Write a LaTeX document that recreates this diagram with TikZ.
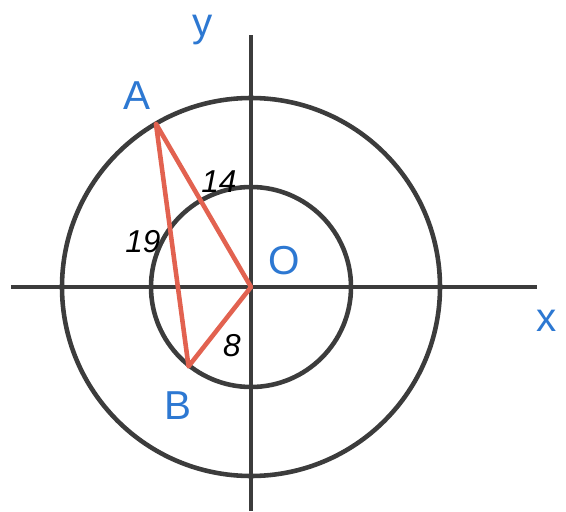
\documentclass[tikz,border=0pt]{standalone}
\usepackage{fontspec}
\setsansfont{Liberation Sans}
\definecolor{penblack}{RGB}{60,60,60}
\definecolor{penred}{RGB}{226,98,80}
\definecolor{penblue}{RGB}{45,120,210}
\tikzset{
    axisline/.style={draw=penblack, line width=2.6pt},
    ringline/.style={draw=penblack, line width=2.6pt},
    sideline/.style={draw=penred, line width=2.6pt, line join=round},
    pointlabel/.style={text=penblue, font=\sffamily\fontsize{23}{26}\selectfont},
    lengthlabel/.style={text=black, font=\sffamily\itshape\fontsize{18}{20}\selectfont}
}
\begin{document}
\begin{tikzpicture}

\useasboundingbox (-5.02,-4.48) rectangle (6.30,5.74);

% Points
\coordinate (O) at (0,0);
\coordinate (A) at (120.2:3.78);
\coordinate (B) at (231.8:2.02);
\coordinate (xl) at (-4.80,0);
\coordinate (xr) at (5.72,0);
\coordinate (yb) at (0,-4.48);
\coordinate (yt) at (0,5.04);

% Axes
\draw[axisline] (xl) -- (xr);
\draw[axisline] (yb) -- (yt);

% Circles
\draw[ringline] (O) circle (3.78);
\draw[ringline] (O) circle (2.0);

% Triangle
\draw[sideline] (A) -- (O) -- (B) -- cycle;

% Labels
\node[pointlabel] (labA) at (-2.28,3.82) {A};
\node[pointlabel] (labB) at (-1.46,-2.38) {B};
\node[pointlabel] (labO) at (0.66,0.52) {O};
\node[pointlabel] (labx) at (5.92,-0.68) {x};
\node[pointlabel] (laby) at (-0.96,5.14) {y};

% Side lengths
\node[lengthlabel] (lenAO) at (-0.64,2.10) {14};
\node[lengthlabel] (lenAB) at (-2.16,0.90) {19};
\node[lengthlabel] (lenOB) at (-0.38,-1.18) {8};

\end{tikzpicture}
\end{document}
